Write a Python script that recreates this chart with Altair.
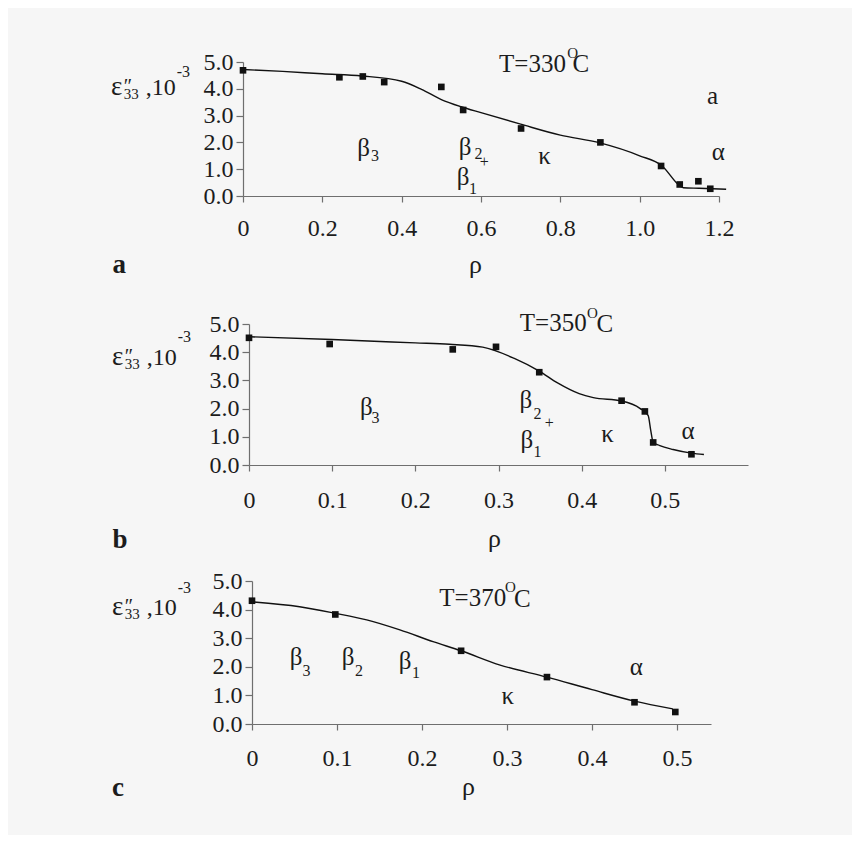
import altair as alt
import pandas as pd

FONT = "Liberation Serif"
INK = "#1c1c1c"
AXIS_GRAY = "#6f6f6f"
BG = "#f6f6f6"

# ---------------- panel a : T = 330 C ----------------
A_RHO = [0.0, 0.243, 0.302, 0.356, 0.500, 0.555, 0.701, 0.901, 1.054, 1.101, 1.148, 1.178]
A_EPS = [4.69, 4.43, 4.46, 4.25, 4.07, 3.21, 2.52, 2.00, 1.12, 0.43, 0.55, 0.27]
A_FIT_RHO = [0.0, 0.1, 0.2, 0.3, 0.4, 0.45, 0.5, 0.55, 0.6, 0.7, 0.8, 0.9, 1.0, 1.056, 1.103, 1.11, 1.15, 1.218]
A_FIT_EPS = [4.72, 4.65, 4.56, 4.48, 4.28, 3.98, 3.60, 3.33, 3.11, 2.68, 2.27, 1.98, 1.50, 1.13, 0.36, 0.31, 0.29, 0.25]
A_XMAX = 1.2
A_XTICKS = [0, 0.2, 0.4, 0.6, 0.8, 1.0, 1.2]
A_GREEK = ["β", "β", "β", "κ", "α", "a"]
A_GREEK_RHO = [0.304, 0.560, 0.555, 0.760, 1.198, 1.184]
A_GREEK_EPS = [1.79, 1.84, 0.70, 1.51, 1.63, 3.73]
A_SUB = ["3", "2", "+", "1"]
A_SUB_RHO = [0.333, 0.594, 0.608, 0.580]
A_SUB_EPS = [1.49, 1.55, 1.28, 0.27]
A_TEMP = ["T=330", "O", "C"]
A_TEMP_RHO = [0.814, 0.831, 0.852]
A_TEMP_EPS = [4.93, 5.33, 4.93]

# ---------------- panel b : T = 350 C ----------------
B_RHO = [0.0, 0.097, 0.245, 0.297, 0.349, 0.448, 0.476, 0.486, 0.532]
B_EPS = [4.51, 4.29, 4.10, 4.19, 3.29, 2.28, 1.90, 0.80, 0.38]
B_FIT_RHO = [0.0, 0.1, 0.2, 0.241, 0.281, 0.319, 0.349, 0.371, 0.397, 0.414, 0.448, 0.47, 0.48, 0.483, 0.486, 0.494, 0.51, 0.532, 0.547]
B_FIT_EPS = [4.55, 4.45, 4.33, 4.28, 4.18, 3.78, 3.33, 2.91, 2.53, 2.39, 2.27, 2.01, 1.75, 1.24, 0.81, 0.69, 0.55, 0.42, 0.37]
B_XMAX = 0.6
B_XTICKS = [0, 0.1, 0.2, 0.3, 0.4, 0.5]
B_GREEK = ["β", "β", "β", "κ", "α"]
B_GREEK_RHO = [0.141, 0.333, 0.334, 0.431, 0.528]
B_GREEK_EPS = [2.05, 2.29, 0.87, 1.10, 1.22]
B_SUB = ["3", "2", "+", "1"]
B_SUB_RHO = [0.152, 0.347, 0.361, 0.347]
B_SUB_EPS = [1.67, 1.81, 1.48, 0.45]
B_TEMP = ["T=350", "O", "C"]
B_TEMP_RHO = [0.406, 0.413, 0.428]
B_TEMP_EPS = [5.02, 5.38, 5.00]

# ---------------- panel c : T = 370 C ----------------
C_RHO = [0.0, 0.098, 0.246, 0.347, 0.450, 0.498]
C_EPS = [4.31, 3.83, 2.56, 1.64, 0.76, 0.42]
C_FIT_RHO = [0.0, 0.056, 0.098, 0.135, 0.174, 0.213, 0.246, 0.291, 0.347, 0.40, 0.45, 0.495]
C_FIT_EPS = [4.27, 4.10, 3.87, 3.64, 3.29, 2.88, 2.56, 2.07, 1.64, 1.20, 0.80, 0.53]
C_XMAX = 0.54
C_XTICKS = [0, 0.1, 0.2, 0.3, 0.4, 0.5]
C_GREEK = ["β", "β", "β", "κ", "α"]
C_GREEK_RHO = [0.052, 0.113, 0.180, 0.301, 0.452]
C_GREEK_EPS = [2.34, 2.34, 2.19, 0.97, 2.01]
C_SUB = ["3", "2", "1"]
C_SUB_RHO = [0.064, 0.126, 0.193]
C_SUB_EPS = [1.84, 1.84, 1.78]
C_TEMP = ["T=370", "O", "C"]
C_TEMP_RHO = [0.299, 0.304, 0.318]
C_TEMP_EPS = [4.40, 4.78, 4.36]

Y_TICKS = [0, 1, 2, 3, 4, 5]
X_TITLE = "ρ"
PANEL_LETTERS = ["a", "b", "c"]


def one(text):
    return pd.DataFrame({"t": [text]})


def panel(rho, eps, fit_rho, fit_eps, xmax, xticks, greek, g_rho, g_eps,
          sub, s_rho, s_eps, temp, t_rho, t_eps, letter, lay):
    W, H = lay["w"], lay["h"]
    xs = alt.Scale(domain=[0, xmax], nice=False, zero=False)
    ys = alt.Scale(domain=[0, 5], nice=False, zero=False)
    xaxis = alt.Axis(
        values=xticks,
        labelExpr="datum.value == 0 ? '0' : format(datum.value, '.1f')",
        labelFlush=False, labelOverlap=False, labelBaseline="alphabetic",
        labelPadding=lay["xlp"], tickSize=6,
        title=X_TITLE, titleX=lay["rx"], titleY=lay["ry"],
        titleBaseline="alphabetic", titleAlign="center", titleAngle=0,
        titleFontSize=26, titleFontWeight="normal",
    )
    yaxis = alt.Axis(values=Y_TICKS, format=".1f", title=None, tickSize=7,
                     labelPadding=3, labelFlush=False, labelOverlap=False)
    X = alt.X("rho:Q", scale=xs, axis=xaxis)
    Y = alt.Y("eps:Q", scale=ys, axis=yaxis)

    fit = alt.Chart(pd.DataFrame({"rho": fit_rho, "eps": fit_eps})).mark_line(
        color="#111111", strokeWidth=1.4, interpolate="monotone", clip=False
    ).encode(x=X, y=Y)
    pts = alt.Chart(pd.DataFrame({"rho": rho, "eps": eps})).mark_square(
        size=44, color="#111111", opacity=1
    ).encode(x=X, y=Y)
    g = alt.Chart(pd.DataFrame({"rho": g_rho, "eps": g_eps, "t": greek})).mark_text(
        font=FONT, fontSize=25, align="center", baseline="middle", color=INK
    ).encode(x=X, y=Y, text="t:N")
    s = alt.Chart(pd.DataFrame({"rho": s_rho, "eps": s_eps, "t": sub})).mark_text(
        font=FONT, fontSize=16, align="center", baseline="middle", color=INK
    ).encode(x=X, y=Y, text="t:N")
    tdf = pd.DataFrame({"rho": t_rho, "eps": t_eps, "t": temp})
    t1 = alt.Chart(tdf.iloc[[0]]).mark_text(
        font=FONT, fontSize=25, align="right", baseline="middle", color=INK
    ).encode(x=X, y=Y, text="t:N")
    t2 = alt.Chart(tdf.iloc[[1]]).mark_text(
        font=FONT, fontSize=15, align="center", baseline="middle", color=INK
    ).encode(x=X, y=Y, text="t:N")
    t3 = alt.Chart(tdf.iloc[[2]]).mark_text(
        font=FONT, fontSize=25, align="center", baseline="middle", color=INK
    ).encode(x=X, y=Y, text="t:N")

    # y-axis title: eps''_33 , 10^-3
    ex, ey = lay["ex"], lay["ey"]
    parts = [("ε", 0, 0, 27, "center"), ("″", 7, -2, 20, "left"),
             ("33", 7, 4, 15, "left"), (",10", 29, 0, 24, "left"),
             ("-3", 60, lay["sup"], 16, "left")]
    title_layers = [
        alt.Chart(one(txt)).mark_text(font=FONT, fontSize=sz, align=al,
                                      baseline="alphabetic", color=INK)
        .encode(text="t:N", x=alt.value(ex + dx), y=alt.value(ey + dy))
        for txt, dx, dy, sz, al in parts
    ]
    let = alt.Chart(one(letter)).mark_text(
        font=FONT, fontSize=27, fontWeight="bold", align="center",
        baseline="alphabetic", color=INK
    ).encode(text="t:N", x=alt.value(lay["lx"]), y=alt.value(H + lay["ly"]))
    frame = alt.Chart(one("")).mark_rule(opacity=0, strokeWidth=1).encode(
        x=alt.value(-lay["L"]), y=alt.value(-lay["T"]), y2=alt.value(H + lay["B"])
    )
    return alt.layer(fit, pts, g, s, t1, t2, t3, *title_layers, let, frame).properties(
        width=W, height=H
    )


def spacer():
    return alt.Chart(one("")).mark_rule(opacity=0, strokeWidth=1).encode(
        x=alt.value(0), x2=alt.value(1), y=alt.value(0)
    ).properties(width=1, height=1)


LAY_A = dict(w=476, h=134, xlp=33, rx=232, ry=76, ex=-126.3, ey=33, sup=-18,
             lx=-123.8, ly=77, L=138, T=30, B=95)
LAY_B = dict(w=499, h=141, xlp=36, rx=245, ry=81, ex=-131.3, ey=41, sup=-23,
             lx=-129, ly=83, L=144, T=33, B=96)
LAY_C = dict(w=459, h=143, xlp=35, rx=216, ry=70, ex=-134.3, ey=34, sup=-22,
             lx=-134, ly=72, L=147, T=20, B=90)

pa = panel(A_RHO, A_EPS, A_FIT_RHO, A_FIT_EPS, A_XMAX, A_XTICKS, A_GREEK, A_GREEK_RHO,
           A_GREEK_EPS, A_SUB, A_SUB_RHO, A_SUB_EPS, A_TEMP, A_TEMP_RHO, A_TEMP_EPS,
           PANEL_LETTERS[0], LAY_A)
pb = panel(B_RHO, B_EPS, B_FIT_RHO, B_FIT_EPS, B_XMAX, B_XTICKS, B_GREEK, B_GREEK_RHO,
           B_GREEK_EPS, B_SUB, B_SUB_RHO, B_SUB_EPS, B_TEMP, B_TEMP_RHO, B_TEMP_EPS,
           PANEL_LETTERS[1], LAY_B)
pc = panel(C_RHO, C_EPS, C_FIT_RHO, C_FIT_EPS, C_XMAX, C_XTICKS, C_GREEK, C_GREEK_RHO,
           C_GREEK_EPS, C_SUB, C_SUB_RHO, C_SUB_EPS, C_TEMP, C_TEMP_RHO, C_TEMP_EPS,
           PANEL_LETTERS[2], LAY_C)

rows = [alt.hconcat(spacer(), p, spacing=0) for p in (pa, pb, pc)]

chart = alt.vconcat(*rows, spacing=0).properties(
    padding={"left": 96, "top": 24, "right": 104, "bottom": 21}
).configure(
    background=BG, font=FONT
).configure_view(
    stroke=None
).configure_axis(
    labelFont=FONT, titleFont=FONT, labelFontSize=24, labelColor=INK,
    titleColor=INK, domainColor=AXIS_GRAY, tickColor=AXIS_GRAY,
    domainWidth=1.2, tickWidth=1.2, grid=False
)

chart.save("out.html", embed_options={"renderer": "svg", "actions": False})
